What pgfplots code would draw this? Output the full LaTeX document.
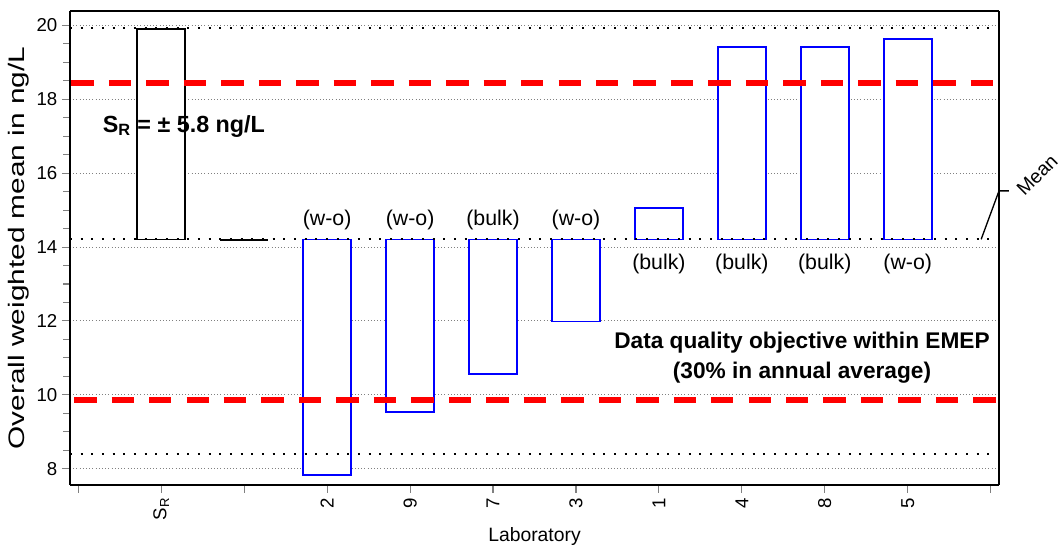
\documentclass[border=0pt]{standalone}
\usepackage{fontspec}
\setmainfont{Liberation Sans}
\usepackage{graphicx}
\usepackage{pgfplots}
\pgfplotsset{compat=1.18}

% floating bars: x, low edge, high edge (ng/L); mean of labs = 14.2
\begin{document}
\begin{tikzpicture}
\begin{axis}[
  scale only axis, width=696.75pt, height=355.5pt,
  xmin=-0.1, xmax=11.1, ymin=7.56, ymax=20.39,
  xtick={0,...,11},
  xticklabels={,S\textsubscript{R},,2,9,7,3,1,4,8,5,},
  ytick={8,10,...,20},
  minor y tick num=3,
  tick align=outside,
  major tick length=6pt, minor tick length=5pt,
  tick style={gray, line width=0.8pt},
  axis x line*=bottom, axis y line*=left,
  axis line style={line width=1.6pt, -},
  x tick label style={rotate=90, anchor=east, font=\fontsize{14}{16}\selectfont},
  y tick label style={font=\fontsize{14}{16}\selectfont},
  /pgf/number format/assume math mode=true,
  ymajorgrids,
  grid style={gray, line width=0.8pt, dash pattern=on 0.8pt off 1.6pt},
  xlabel={Laboratory},
  ylabel={\scalebox{1.33}[1]{Overall weighted mean in ng/L}},
  every axis x label/.style={at={([yshift=-39pt]rel axis cs:0.5,0)}, anchor=center,
    font=\fontsize{14.5}{16}\selectfont},
  every axis y label/.style={at={([xshift=-38.6pt]rel axis cs:0,0.5)}, rotate=90, anchor=center,
    font=\fontsize{16.8}{19}\selectfont},
  clip=false,
]
% S_R bar and mean marker
\addplot[black, line width=1.2pt, fill=white] coordinates {(0.71,14.2)(1.29,14.2)(1.29,19.9)(0.71,19.9)} --cycle;
\addplot[black, line width=1.6pt] coordinates {(1.71,14.2)(2.29,14.2)};
% laboratories
\addplot[blue, line width=1.2pt, fill=white] coordinates {(2.71,7.83)(3.29,7.83)(3.29,14.2)(2.71,14.2)} --cycle;
\addplot[blue, line width=1.2pt, fill=white] coordinates {(3.71,9.54)(4.29,9.54)(4.29,14.2)(3.71,14.2)} --cycle;
\addplot[blue, line width=1.2pt, fill=white] coordinates {(4.71,10.57)(5.29,10.57)(5.29,14.2)(4.71,14.2)} --cycle;
\addplot[blue, line width=1.2pt, fill=white] coordinates {(5.71,11.98)(6.29,11.98)(6.29,14.2)(5.71,14.2)} --cycle;
\addplot[blue, line width=1.2pt, fill=white] coordinates {(6.71,14.2)(7.29,14.2)(7.29,15.05)(6.71,15.05)} --cycle;
\addplot[blue, line width=1.2pt, fill=white] coordinates {(7.71,14.2)(8.29,14.2)(8.29,19.41)(7.71,19.41)} --cycle;
\addplot[blue, line width=1.2pt, fill=white] coordinates {(8.71,14.2)(9.29,14.2)(9.29,19.41)(8.71,19.41)} --cycle;
\addplot[blue, line width=1.2pt, fill=white] coordinates {(9.71,14.2)(10.29,14.2)(10.29,19.63)(9.71,19.63)} --cycle;
% mean and mean +/- S_R
\addplot[black, line width=1.4pt, dash pattern=on 1.4pt off 6.6pt] coordinates {(-0.1,19.92)(11.1,19.92)};
\addplot[black, line width=1.4pt, dash pattern=on 1.4pt off 6.6pt] coordinates {(-0.1,14.21)(11.1,14.21)};
\addplot[black, line width=1.4pt, dash pattern=on 1.4pt off 6.6pt] coordinates {(-0.1,8.39)(11.1,8.39)};
% data quality objective (+/- 30 %)
\addplot[red, line width=4.5pt, dash pattern=on 16.8pt off 11.3pt, dash phase=27pt] coordinates {(-0.1,18.45)(11.1,18.45)};
\addplot[red, line width=4.5pt, dash pattern=on 16.8pt off 11.3pt, dash phase=25pt] coordinates {(-0.1,9.87)(11.1,9.87)};

\node[anchor=west, font=\bfseries\fontsize{17.5}{20}\selectfont] at (axis cs:0.24,17.27) {S\textsubscript{R} = ± 5.8 ng/L};
\node[align=center, font=\bfseries\fontsize{17}{22.5}\selectfont] at (axis cs:8.725,11.0) {Data quality objective within EMEP\\(30\% in annual average)};

\begin{scope}[every node/.style={font=\fontsize{16}{18}\selectfont}]
\node at (axis cs:3,14.73) {(w-o)};
\node at (axis cs:4,14.73) {(w-o)};
\node at (axis cs:5,14.73) {(bulk)};
\node at (axis cs:6,14.73) {(w-o)};
\node at (axis cs:7,13.54) {(bulk)};
\node at (axis cs:8,13.54) {(bulk)};
\node at (axis cs:9,13.54) {(bulk)};
\node at (axis cs:10,13.54) {(w-o)};
\end{scope}

\draw[black, line width=1pt] (axis cs:10.885,14.21) -- (axis cs:11.1,15.52) -- (axis cs:11.22,15.52);
\node[rotate=45, inner sep=1pt, font=\fontsize{14.5}{16}\selectfont] at (axis cs:11.56,15.95) {Mean};

\draw[line width=1.6pt] (rel axis cs:0,1) -- (rel axis cs:1,1);
\draw[line width=0.8pt] (rel axis cs:1,1) -- (rel axis cs:1,0);
\coordinate (bl) at (rel axis cs:0,0);
\coordinate (tr) at (rel axis cs:1,1);
\end{axis}
\pgfresetboundingbox
\path ([shift={(-52.5pt,-47.25pt)}]bl) rectangle ([shift={(47.25pt,8.25pt)}]tr);
\end{tikzpicture}
\end{document}
